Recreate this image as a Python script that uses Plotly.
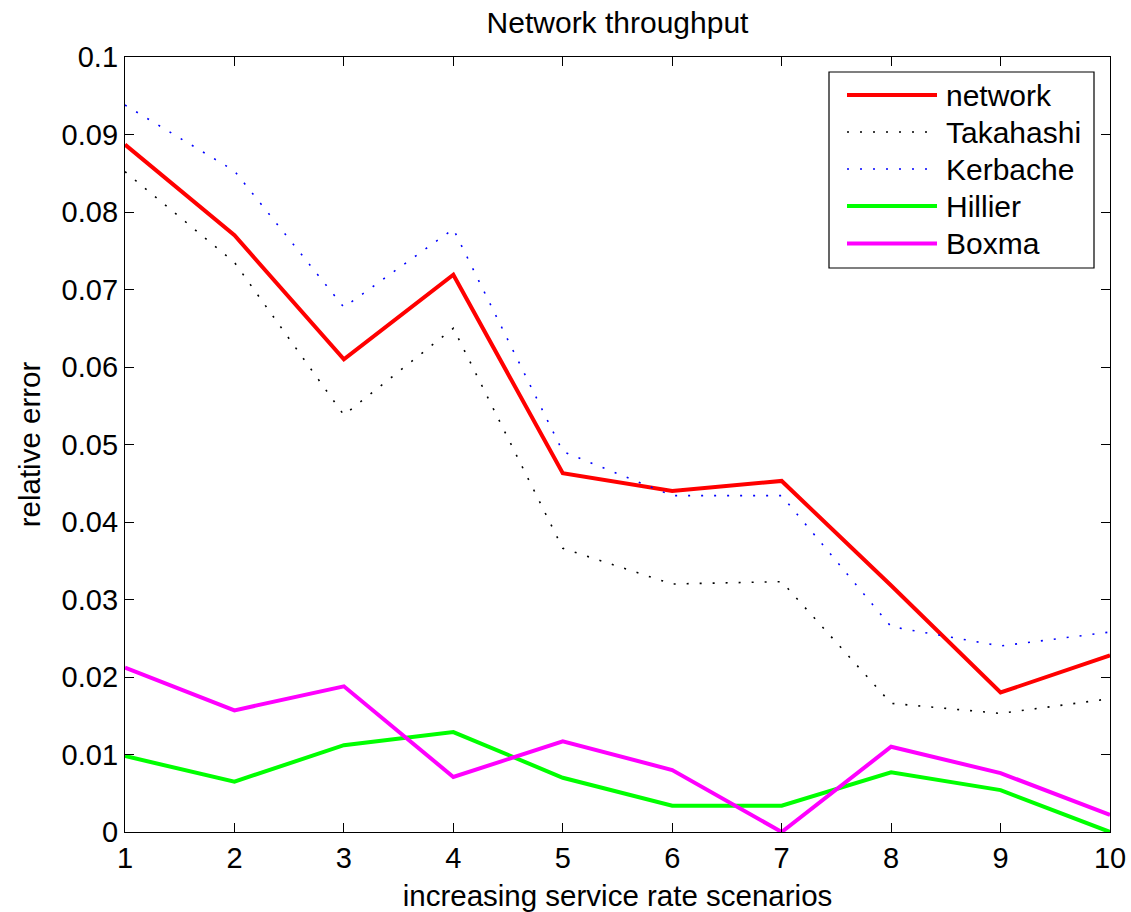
import plotly.graph_objects as go

# Scenario index (increasing service rate)
scenarios = [1, 2, 3, 4, 5, 6, 7, 8, 9, 10]

# Relative error of network throughput for each approximation method
network   = [0.0887, 0.0770, 0.0610, 0.0719, 0.0463, 0.0440, 0.0453, 0.0318, 0.0180, 0.0228]
takahashi = [0.0852, 0.0735, 0.0538, 0.0650, 0.0366, 0.0320, 0.0323, 0.0166, 0.0153, 0.0172]
kerbache  = [0.0938, 0.0853, 0.0677, 0.0778, 0.0491, 0.0434, 0.0434, 0.0265, 0.0240, 0.0258]
hillier   = [0.0098, 0.0065, 0.0112, 0.0129, 0.0070, 0.0034, 0.0034, 0.0077, 0.0054, 0.0000]
boxma     = [0.0212, 0.0157, 0.0188, 0.0071, 0.0117, 0.0080, 0.0000, 0.0110, 0.0076, 0.0022]

series_names = ["network", "Takahashi", "Kerbache", "Hillier", "Boxma"]
x_ticks = [1, 2, 3, 4, 5, 6, 7, 8, 9, 10]
y_ticks = [0, 0.01, 0.02, 0.03, 0.04, 0.05, 0.06, 0.07, 0.08, 0.09, 0.1]
y_tick_text = ["0", "0.01", "0.02", "0.03", "0.04", "0.05", "0.06", "0.07", "0.08", "0.09", "0.1"]

FONT = "Liberation Sans, Arial, Helvetica, sans-serif"
W, H = 1131, 912
ML, MR, MT, MB = 125, 21, 57, 80
PW, PH = W - ML - MR, H - MT - MB

styles = {
    "network":   dict(color="#ff0000", width=4, dash="solid"),
    "Takahashi": dict(color="#000000", width=1.6, dash="2px,11px"),
    "Kerbache":  dict(color="#0000ff", width=1.6, dash="2px,11px"),
    "Hillier":   dict(color="#00ff00", width=4, dash="solid"),
    "Boxma":     dict(color="#ff00ff", width=4, dash="solid"),
}
data = dict(zip(series_names, [network, takahashi, kerbache, hillier, boxma]))

fig = go.Figure()
for name in series_names:
    fig.add_trace(go.Scatter(
        x=scenarios, y=data[name], mode="lines", name=name,
        line=styles[name], showlegend=False,
    ))

def px_x(p):
    return (p - ML) / PW

def px_y(p):
    return (H - MB - p) / PH

# Boxed legend in the upper-right corner
shapes = [dict(type="rect", xref="paper", yref="paper",
               x0=px_x(829), x1=px_x(1094), y0=px_y(268), y1=px_y(72),
               line=dict(color="black", width=1.2), fillcolor="white", layer="above")]
annotations = []
row_y = [95, 132, 169, 206, 243.5]
for name, ry in zip(series_names, row_y):
    st = styles[name]
    shapes.append(dict(type="line", xref="paper", yref="paper",
                       x0=px_x(847), x1=px_x(937), y0=px_y(ry), y1=px_y(ry),
                       line=dict(color=st["color"], width=st["width"], dash=st["dash"]),
                       layer="above"))
    annotations.append(dict(xref="paper", yref="paper", x=px_x(944), y=px_y(ry),
                            text=name, showarrow=False, xanchor="left", yanchor="middle",
                            font=dict(family=FONT, size=30, color="black")))

axis_common = dict(
    showline=True, linecolor="black", linewidth=1.3, mirror="ticks",
    ticks="inside", ticklen=9, tickwidth=1.2, tickcolor="black",
    showgrid=False, zeroline=False, automargin=False,
    tickfont=dict(family=FONT, size=29, color="black"),
)

fig.update_layout(
    width=W, height=H,
    margin=dict(l=ML, r=MR, t=MT, b=MB),
    paper_bgcolor="white", plot_bgcolor="white",
    title=dict(text="Network throughput", x=0.5 * (ML + W - MR) / W, xanchor="center",
               y=1 - 22 / H, yanchor="middle",
               font=dict(family=FONT, size=30, color="black")),
    xaxis=dict(range=[1, 10], tickvals=x_ticks, ticktext=[str(v) for v in x_ticks],
               title=dict(text="increasing service rate scenarios", standoff=14,
                          font=dict(family=FONT, size=29.5, color="black")),
               **axis_common),
    yaxis=dict(range=[0, 0.1], tickvals=y_ticks, ticktext=y_tick_text,
               title=dict(text="relative error", standoff=12,
                          font=dict(family=FONT, size=29.5, color="black")),
               **axis_common),
    shapes=shapes,
    annotations=annotations,
)

fig.write_html("out.html")
